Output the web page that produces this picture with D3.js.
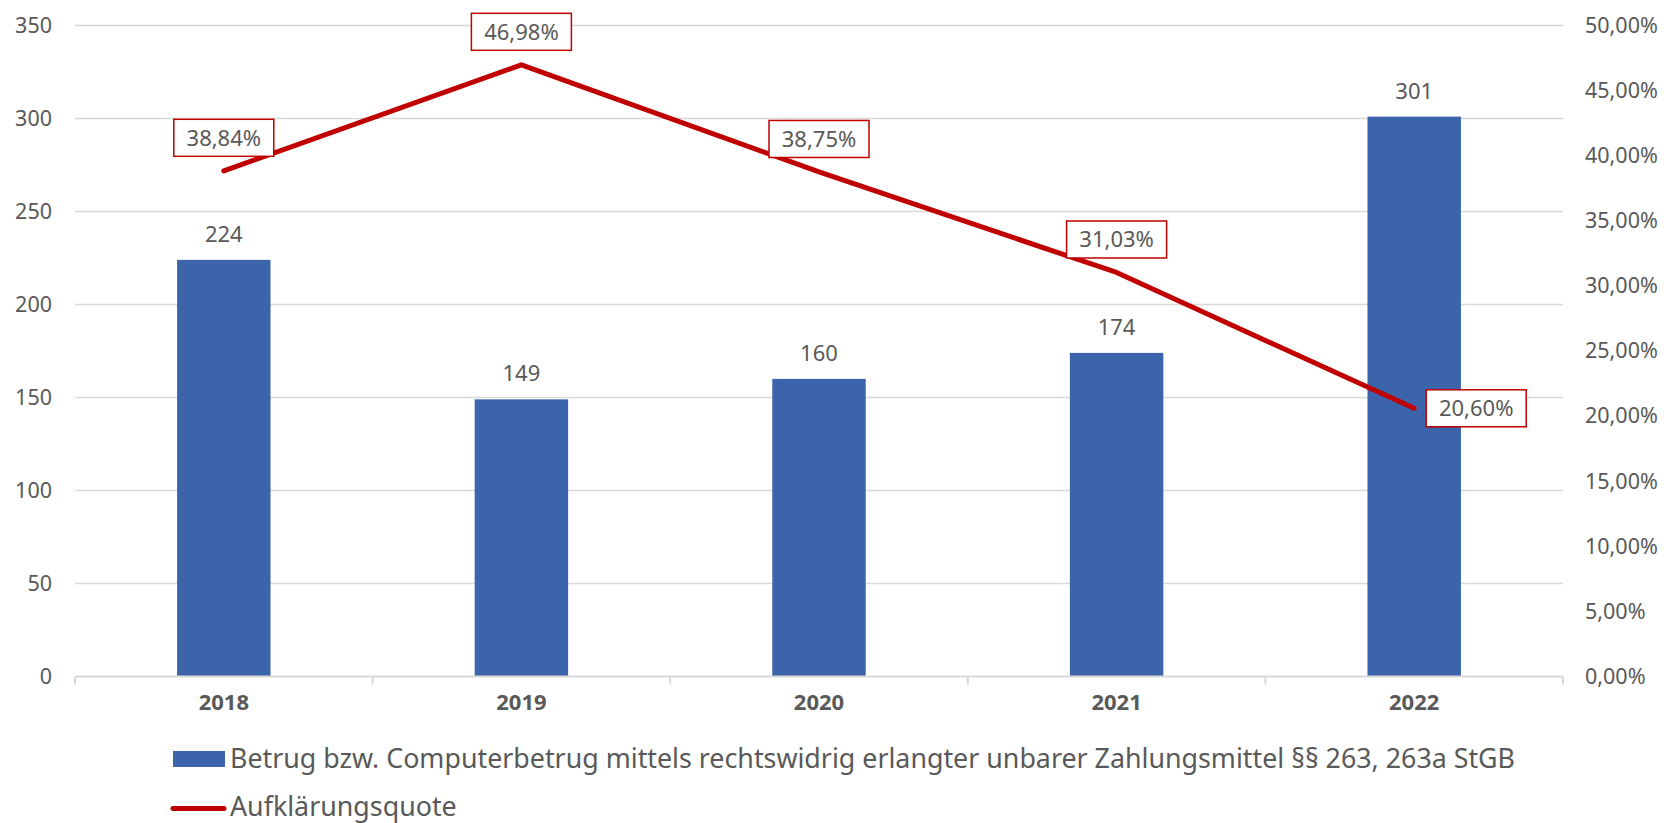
<!DOCTYPE html>
<html>
<head>
<meta charset="utf-8">
<script src="https://cdn.jsdelivr.net/npm/d3@7"></script>
<style>
  body { margin: 0; background: #fff; }
  svg { display: block; }
  text { font-family: "Noto Sans", "Open Sans", sans-serif; fill: #595959; }
</style>
</head>
<body>
<div id="chart"></div>
<script>
// --- data
const years = ['2018', '2019', '2020', '2021', '2022'];
const cases = [224, 149, 160, 174, 301];
const quote = [38.84, 46.98, 38.75, 31.03, 20.60];
const leftTicks = [0, 50, 100, 150, 200, 250, 300, 350];
const rightTicks = [0, 5, 10, 15, 20, 25, 30, 35, 40, 45, 50];
const barName = 'Betrug bzw. Computerbetrug mittels rechtswidrig erlangter unbarer Zahlungsmittel §§ 263, 263a StGB';
const lineName = 'Aufklärungsquote';

const W = 1671, H = 823;
const margin = { top: 25.5, right: 108, bottom: 146.5, left: 75 };
const width = W - margin.left - margin.right;
const height = H - margin.top - margin.bottom;

const fmtPct = v => v.toFixed(2).replace('.', ',') + '%';

const svg = d3.select('#chart').append('svg')
  .attr('width', W)
  .attr('height', H);
const g = svg.append('g')
  .attr('transform', `translate(${margin.left},${margin.top})`);

const x = d3.scaleBand().domain(years).range([0, width]);
const y = d3.scaleLinear().domain([0, 350]).range([height, 0]);
const y2 = d3.scaleLinear().domain([0, 50]).range([height, 0]);

// grid
g.append('g')
  .selectAll('line')
  .data(leftTicks.filter(d => d > 0))
  .enter()
  .append('line')
  .attr('x1', 0)
  .attr('x2', width)
  .attr('y1', d => y(d))
  .attr('y2', d => y(d))
  .attr('stroke', '#d9d9d9')
  .attr('stroke-width', 1.5);

// left axis
const yAxis = g.append('g')
  .call(d3.axisLeft(y).tickValues(leftTicks).tickSize(0).tickPadding(23));
yAxis.select('.domain').remove();
yAxis.selectAll('text')
  .attr('font-size', 21.5)
  .attr('fill', '#595959')
  .attr('font-family', '"Noto Sans", sans-serif');

// right axis
const y2Axis = g.append('g')
  .attr('transform', `translate(${width},0)`)
  .call(d3.axisRight(y2).tickValues(rightTicks).tickSize(0).tickPadding(22)
    .tickFormat(d => fmtPct(d)));
y2Axis.select('.domain').remove();
y2Axis.selectAll('text')
  .attr('font-size', 21.5)
  .attr('fill', '#595959')
  .attr('font-family', '"Noto Sans", sans-serif');

// bars
const barW = x.bandwidth() * 0.314;
g.selectAll('rect.bar')
  .data(cases)
  .enter()
  .append('rect')
  .attr('class', 'bar')
  .attr('x', (d, i) => x(years[i]) + x.bandwidth() / 2 - barW / 2)
  .attr('y', d => y(d))
  .attr('width', barW)
  .attr('height', d => height - y(d))
  .attr('fill', '#3c64aa');

// bar labels
g.selectAll('text.barlbl')
  .data(cases)
  .enter()
  .append('text')
  .attr('class', 'barlbl')
  .attr('x', (d, i) => x(years[i]) + x.bandwidth() / 2)
  .attr('y', d => y(d) - 18)
  .attr('text-anchor', 'middle')
  .attr('font-size', 22)
  .text(d => d);

// bottom axis
const xAxis = g.append('g')
  .attr('transform', `translate(0,${height})`)
  .call(d3.axisBottom(x).tickSize(0).tickPadding(18));
xAxis.select('.domain')
  .attr('stroke', '#d9d9d9')
  .attr('stroke-width', 2)
  .attr('d', `M0,0H${width}`);
xAxis.selectAll('text')
  .attr('font-size', 22)
  .attr('font-weight', 'bold')
  .attr('fill', '#595959')
  .attr('font-family', '"Noto Sans", sans-serif');
xAxis.selectAll('line.sep')
  .data(d3.range(years.length + 1))
  .enter()
  .append('line')
  .attr('class', 'sep')
  .attr('x1', i => i * x.step())
  .attr('x2', i => i * x.step())
  .attr('y1', 0)
  .attr('y2', 8)
  .attr('stroke', '#d9d9d9')
  .attr('stroke-width', 2);

// line
const line = d3.line()
  .x((d, i) => x(years[i]) + x.bandwidth() / 2)
  .y(d => y2(d));
g.append('path')
  .datum(quote)
  .attr('fill', 'none')
  .attr('stroke', '#c00000')
  .attr('stroke-width', 5)
  .attr('stroke-linejoin', 'round')
  .attr('stroke-linecap', 'round')
  .attr('d', line);

// line labels (boxed)
quote.forEach((v, i) => {
  const px = x(years[i]) + x.bandwidth() / 2;
  const py = y2(v);
  const last = i === quote.length - 1;
  const bw = 100, bh = 37;
  const cx = last ? px + 12 + bw / 2 : px;
  const cy = last ? py : py - 33;
  const lg = g.append('g').attr('transform', `translate(${cx},${cy})`);
  lg.append('rect')
    .attr('x', -bw / 2)
    .attr('y', -bh / 2)
    .attr('width', bw)
    .attr('height', bh)
    .attr('fill', '#fff')
    .attr('stroke', '#c00000')
    .attr('stroke-width', 1.5);
  lg.append('text')
    .attr('text-anchor', 'middle')
    .attr('dy', '0.35em')
    .attr('font-size', 22)
    .text(fmtPct(v));
});

// legend
const leg = svg.append('g');
leg.append('rect')
  .attr('x', 173)
  .attr('y', 751)
  .attr('width', 52)
  .attr('height', 16)
  .attr('fill', '#3c64aa');
const t1 = leg.append('text')
  .attr('x', 230)
  .attr('y', 768)
  .attr('font-size', 26)
  .text(barName);
// fit to the reference width
const w1 = t1.node().getComputedTextLength();
t1.attr('font-size', 26 * 1286 / w1);

leg.append('line')
  .attr('x1', 173)
  .attr('x2', 224)
  .attr('y1', 808.5)
  .attr('y2', 808.5)
  .attr('stroke', '#c00000')
  .attr('stroke-width', 5)
  .attr('stroke-linecap', 'round');
leg.append('text')
  .attr('x', 230)
  .attr('y', 816)
  .attr('font-size', 26 * 1286 / w1)
  .text(lineName);
</script>
</body>
</html>
